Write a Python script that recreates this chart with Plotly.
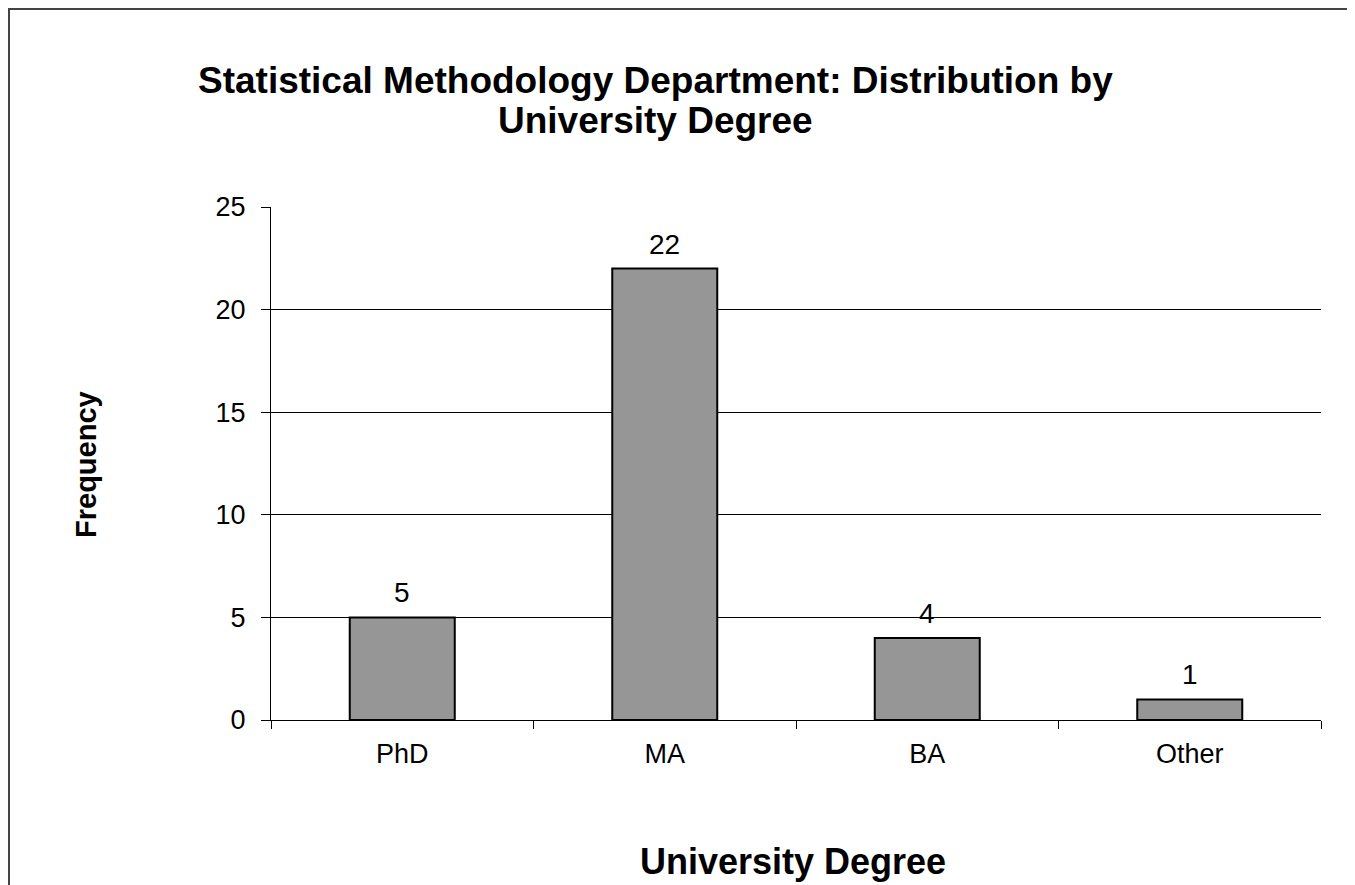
import plotly.graph_objects as go

categories = ["PhD", "MA", "BA", "Other"]
frequency = [5, 22, 4, 1]
y_ticks = [0, 5, 10, 15, 20, 25]
grid_ticks = [5, 10, 15, 20]

FONT = "Liberation Sans, Arial, sans-serif"
OFF = 8  # page body margin
W, H = 1355 - OFF, 885 - OFF
# plot area in page pixels
PL, PR, PT, PB = 271, 1321, 207, 720
L, T = PL - OFF, PT - OFF
R, B = W - (PR - OFF), H - (PB - OFF)
pw, ph = PR - PL, PB - PT


def fx(x_page):
    return (x_page - PL) / pw


def fy(y_page):
    return (PB - y_page) / ph


fig = go.Figure()
fig.add_trace(go.Bar(
    x=categories, y=frequency, width=0.4,
    marker=dict(color="#969696", line=dict(color="black", width=2)),
    showlegend=False,
))
fig.add_trace(go.Scatter(x=categories, y=frequency, yaxis="y2", mode="none",
                         showlegend=False, hoverinfo="skip"))

annotations = [
    dict(text=str(v), x=c, y=v, xref="x", yref="y", xanchor="center",
         yanchor="bottom", yshift=7, showarrow=False,
         font=dict(family=FONT, size=28, color="black"))
    for c, v in zip(categories, frequency)
]
annotations += [
    dict(text="<b>Statistical Methodology Department: Distribution by</b>",
         xref="paper", yref="paper", x=fx(655), y=fy(81),
         xanchor="center", yanchor="middle", showarrow=False,
         font=dict(family=FONT, size=37)),
    dict(text="<b>University Degree</b>",
         xref="paper", yref="paper", x=fx(655), y=fy(121),
         xanchor="center", yanchor="middle", showarrow=False,
         font=dict(family=FONT, size=37)),
    dict(text="<b>University Degree</b>", xref="paper", yref="paper",
         x=fx(793), y=fy(862), xanchor="center", yanchor="middle",
         showarrow=False, font=dict(family=FONT, size=36)),
    dict(text="<b>Frequency</b>", xref="paper", yref="paper",
         x=fx(86), y=fy(465), xanchor="center", yanchor="middle",
         textangle=-90, showarrow=False, font=dict(family=FONT, size=29)),
]

fig.update_layout(
    width=W, height=H,
    margin=dict(l=L, r=R, t=T, b=B),
    paper_bgcolor="white", plot_bgcolor="rgba(0,0,0,0)",
    font=dict(family=FONT, color="black"),
    xaxis=dict(
        showline=True, linecolor="black", linewidth=1,
        ticks="outside", tickson="boundaries", ticklen=8, tickcolor="black",
        tickfont=dict(family=FONT, size=27), showgrid=False,
        ticklabelstandoff=10,
    ),
    yaxis=dict(
        range=[0, 25], tickvals=y_ticks, showgrid=False, zeroline=False,
        showline=True, linecolor="black", linewidth=1,
        ticks="outside", ticklen=9, tickcolor="black",
        tickfont=dict(family=FONT, size=27), ticklabelstandoff=10,
    ),
    yaxis2=dict(
        range=[0, 25], tickvals=grid_ticks, overlaying="y", showgrid=True,
        gridcolor="black", gridwidth=1, showticklabels=False, zeroline=False,
        showline=False, ticks="",
    ),
    annotations=annotations,
    shapes=[
        dict(type="rect", xref="paper", yref="paper",
             x0=fx(9), x1=fx(1370), y0=fy(900), y1=fy(9),
             line=dict(color="#444444", width=2), fillcolor="rgba(0,0,0,0)", layer="below"),
    ],
)
fig.write_html("out.html")
